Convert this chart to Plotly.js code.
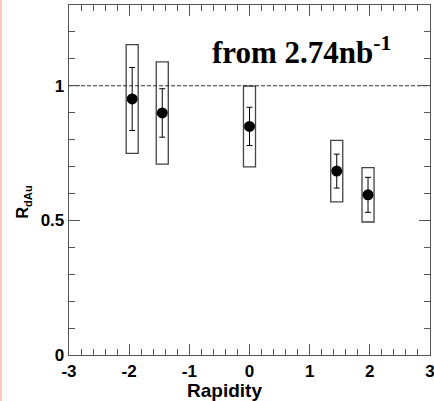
<!DOCTYPE html>
<html>
<head>
<meta charset="utf-8">
<script src="https://cdn.plot.ly/plotly-3.0.1.min.js"></script>
<style>
html,body{margin:0;padding:0;background:#fff;}
#chart{width:434px;height:401px;}
#strip{position:absolute;left:0;top:0;width:2px;height:401px;background:#fec8b4;z-index:10;}
</style>
</head>
<body>
<div id="strip"></div>
<div id="chart"></div>
<script>
// Data
const rapidity = [-1.95, -1.45, 0, 1.45, 1.97];
const rdAu     = [0.951, 0.899, 0.849, 0.683, 0.595];
const statErr  = [0.117, 0.090, 0.071, 0.063, 0.065];
const sysErr   = [0.202, 0.190, 0.150, 0.114, 0.101];
const sysBoxWidth = 0.2;
const refLineX = [-3, 3];
const refLineY = [1, 1];
const xTickVals = [-3, -2, -1, 0, 1, 2, 3];
const xTickText = ['-3', '-2', '-1', '0', '1', '2', '3'];
const yTickVals = [0, 0.5, 1];
const yTickText = ['0', '0.5', '1'];
const lumiText = 'from 2.74nb<sup>-1</sup>';

const sysBase = rdAu.map((v, i) => v - sysErr[i]);
const sysHeight = sysErr.map(e => 2 * e);

const traces = [
  {
    type: 'scatter', mode: 'lines', x: refLineX, y: refLineY,
    line: {color: '#000', width: 0.8, dash: '4px,2px'},
    hoverinfo: 'skip', showlegend: false
  },
  {
    type: 'bar', x: rapidity, y: sysHeight, base: sysBase,
    width: sysBoxWidth,
    marker: {color: 'rgba(0,0,0,0)', line: {color: '#444', width: 1.3}},
    showlegend: false
  },
  {
    type: 'scatter', mode: 'markers', x: rapidity, y: rdAu,
    error_y: {type: 'data', array: statErr, visible: true, color: '#000', thickness: 1, width: 3},
    marker: {color: '#000', size: 11},
    showlegend: false
  }
];

const tickFont = {family: 'Liberation Sans, Arial, sans-serif', size: 17, weight: 'bold', color: '#000'};

const layout = {
  width: 434, height: 401,
  margin: {l: 69, r: 4, t: 5, b: 46, pad: 0},
  paper_bgcolor: '#fff', plot_bgcolor: '#fff',
  showlegend: false,
  barmode: 'overlay',
  xaxis: {
    range: [-3, 3], tickmode: 'array', tickvals: xTickVals, ticktext: xTickText,
    ticks: 'inside', ticklen: 11, tickwidth: 1, tickcolor: '#555',
    showline: true, linecolor: '#555', linewidth: 1.3, mirror: 'ticks',
    showgrid: false, zeroline: false, tickfont: tickFont, ticklabeloverflow: 'allow',
    minor: {tickmode: 'linear', tick0: 0, dtick: 0.2, ticks: 'inside', ticklen: 6, tickwidth: 1, tickcolor: '#555', showgrid: false}
  },
  yaxis: {
    range: [0, 1.3], tickmode: 'array', tickvals: yTickVals, ticktext: yTickText,
    ticks: 'inside', ticklen: 11, tickwidth: 1, tickcolor: '#555',
    showline: true, linecolor: '#555', linewidth: 1.3, mirror: 'ticks',
    showgrid: false, zeroline: false, tickfont: tickFont, ticklabeloverflow: 'allow',
    minor: {tickmode: 'linear', tick0: 0, dtick: 0.1, ticks: 'inside', ticklen: 6, tickwidth: 1, tickcolor: '#555', showgrid: false}
  },
  annotations: [
    {
      text: lumiText, xref: 'x', yref: 'y', x: -0.65, y: 1.13,
      xanchor: 'left', yanchor: 'middle', showarrow: false,
      font: {family: 'Liberation Serif, Times New Roman, serif', size: 31, weight: 'bold', color: '#000'}
    },
    {
      text: 'R<sub>dAu</sub>', xref: 'paper', yref: 'paper', x: -0.125, y: 0.438,
      xanchor: 'center', yanchor: 'middle', textangle: -90, showarrow: false,
      font: {family: 'Liberation Sans, Arial, sans-serif', size: 16, weight: 'bold', color: '#000'}
    },
    {
      text: 'Rapidity', xref: 'paper', yref: 'paper', x: 0.432, y: -0.1,
      xanchor: 'center', yanchor: 'middle', showarrow: false,
      font: {family: 'Liberation Sans, Arial, sans-serif', size: 19, weight: 'bold', color: '#000'}
    }
  ]
};

Plotly.newPlot('chart', traces, layout, {displayModeBar: false, staticPlot: true});
</script>
</body>
</html>
